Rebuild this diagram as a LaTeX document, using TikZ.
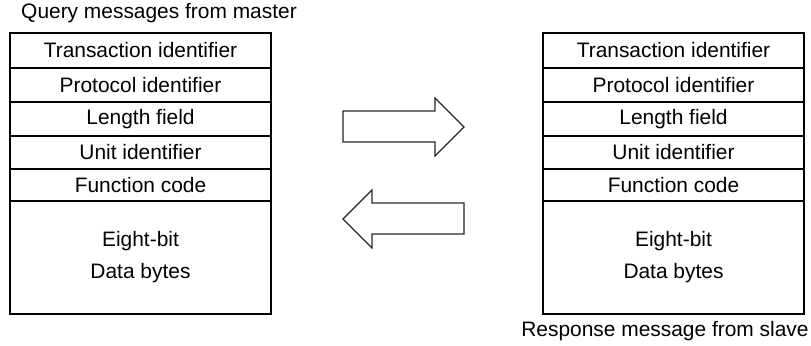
\documentclass[tikz,border=0pt]{standalone}
\usepackage{fontspec}
\setmainfont{Liberation Sans}

\begin{document}
\begin{tikzpicture}[x = 1bp, y = -1bp, font = \fontsize{21}{24}\selectfont]
	\tikzstyle{fieldStyle} = [draw, line width = 2bp, minimum width = 261bp, minimum height = 34bp, inner sep = 0pt, anchor = north west]
	\tikzstyle{dataStyle} = [fieldStyle, minimum height = 113bp, align = center, font = \fontsize{21}{32}\selectfont]
	\tikzstyle{captionStyle} = [inner sep = 0pt, font = \fontsize{21}{24}\selectfont]
	\tikzstyle{blockArrowStyle} = [draw = black!85, line width = 1.1bp, line join = miter]
	\useasboundingbox (0, 0) rectangle (811, 345);
	% query from master
	\node[captionStyle] (qcap) at (159, 13) {Query messages from master};
	\node[fieldStyle, minimum height = 35bp] (q0) at (9, 32) {Transaction identifier};
	\node[fieldStyle] (q1) at (9, 67) {Protocol identifier};
	\node[fieldStyle] (q2) at (9, 101) {Length field};
	\node[fieldStyle, minimum height = 33bp] (q3) at (9, 135) {Unit identifier};
	\node[fieldStyle, minimum height = 32bp] (q4) at (9, 168) {Function code};
	\node[dataStyle] (q5) at (9, 200) {Eight-bit\\Data bytes};
	% response from slave
	\node[fieldStyle, minimum height = 35bp] (r0) at (542, 32) {Transaction identifier};
	\node[fieldStyle] (r1) at (542, 67) {Protocol identifier};
	\node[fieldStyle] (r2) at (542, 101) {Length field};
	\node[fieldStyle, minimum height = 33bp] (r3) at (542, 135) {Unit identifier};
	\node[fieldStyle, minimum height = 32bp] (r4) at (542, 168) {Function code};
	\node[dataStyle] (r5) at (542, 200) {Eight-bit\\Data bytes};
	\node[captionStyle] (rcap) at (665, 331) {Response message from slave};
	% block arrows
	\draw[blockArrowStyle] (343, 111) -- (435, 111) -- (435, 98) -- (464, 127) -- (435, 156) -- (435, 142) -- (343, 142) -- cycle;
	\draw[blockArrowStyle] (464, 203) -- (372, 203) -- (372, 190) -- (343, 219) -- (372, 248) -- (372, 234) -- (464, 234) -- cycle;
\end{tikzpicture}
\end{document}
